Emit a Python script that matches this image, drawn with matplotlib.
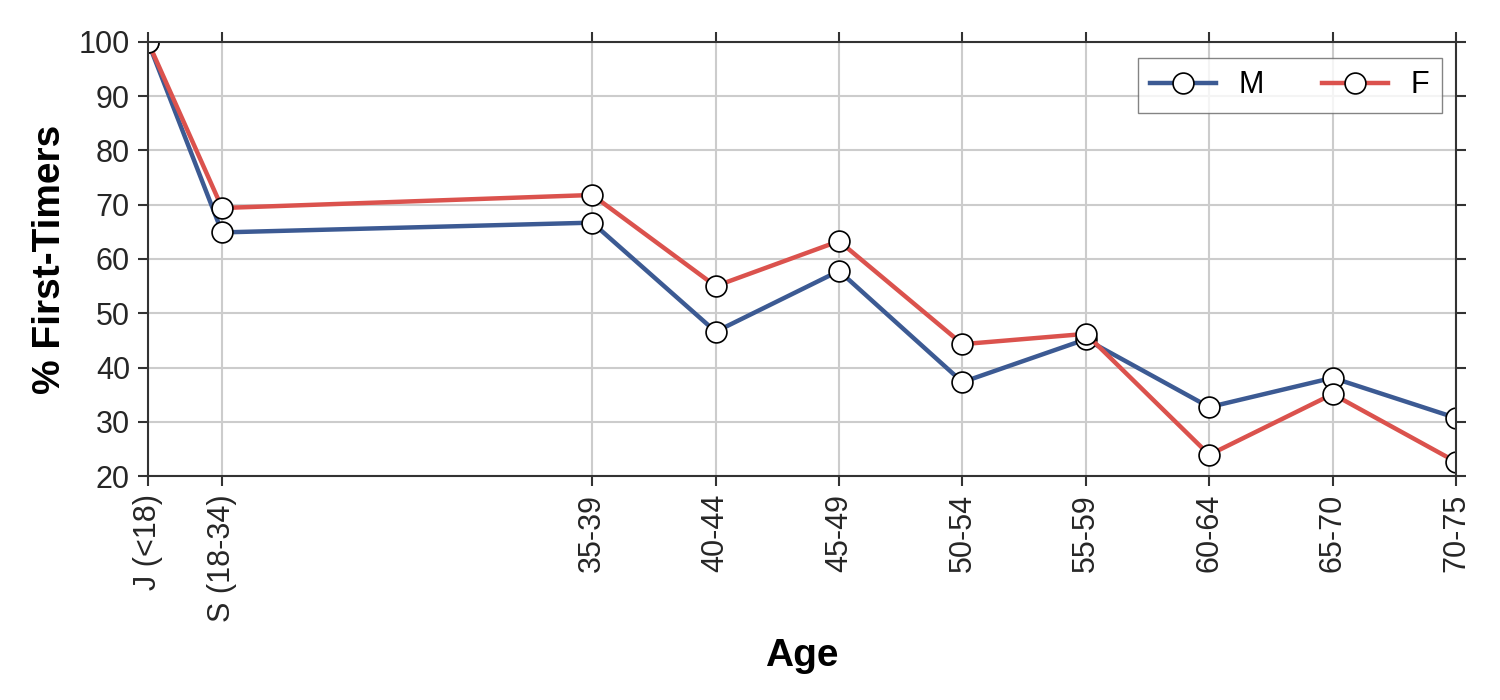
import matplotlib
matplotlib.use("Agg")
import matplotlib.pyplot as plt

# age groups and their positions on the x axis
age_labels = ["J (<18)", "S (18-34)", "35-39", "40-44", "45-49",
              "50-54", "55-59", "60-64", "65-70", "70-75"]
age_pos = [17, 20, 35, 40, 45, 50, 55, 60, 65, 70]

# % first-timers per group
male = [100, 64.9, 66.7, 46.6, 57.8, 37.3, 45.2, 32.7, 38.1, 30.7]
female = [100, 69.4, 71.8, 55.0, 63.3, 44.3, 46.2, 23.9, 35.1, 22.6]

plt.rcParams['font.family'] = ['Liberation Sans', 'DejaVu Sans']

fig = plt.figure(figsize=(15, 7), dpi=100)
ax = fig.add_axes([0.0987, 0.32, 0.872, 0.62])

style = dict(lw=3.2, marker='o', ms=15, mfc='white', mec='black', mew=1.2)
ax.plot(age_pos, male, color='#3c5a93', label='M', **style)
ax.plot(age_pos, female, color='#db524d', label='F', **style)

ax.set_xlim(age_pos[0], age_pos[-1])
ax.set_ylim(20, 100)
ax.set_xticks(age_pos)
ax.set_xticklabels(age_labels, rotation=90)
ax.set_yticks(range(20, 101, 10))

ax.grid(True, color='#cccccc', lw=1.5)
ax.set_axisbelow(True)
for s in ax.spines.values():
    s.set_color('#333333')
    s.set_linewidth(1.5)
ax.tick_params(axis='both', which='both', direction='out', length=7, width=1.5,
               color='#333333', labelcolor='#262626', labelsize=22,
               top=True, right=True, pad=6)

ax.set_xlabel("Age", fontsize=28, fontweight='bold', labelpad=12)
ax.set_ylabel("% First-Timers", fontsize=28, fontweight='bold', labelpad=8)

leg = ax.legend(ncol=2, loc='upper right', fontsize=22, frameon=True,
                fancybox=False, borderpad=0.4, borderaxespad=0,
                columnspacing=1.9, handlelength=2.15, handletextpad=0.75,
                bbox_to_anchor=(0.989, 0.963))
leg.get_frame().set_edgecolor('#666666')
leg.get_frame().set_linewidth(1.0)

fig.savefig("out.png", dpi=100)
